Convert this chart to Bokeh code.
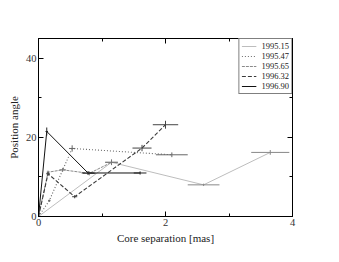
from bokeh.plotting import figure
from bokeh.models import FixedTicker, LinearAxis, ColumnDataSource, Legend, LegendItem, Range1d
from bokeh.embed import file_html
from bokeh.resources import INLINE

labels = ["1995.15", "1995.47", "1995.65", "1996.32", "1996.90"]
sep = [
    [0.0, 1.15, 2.60, 3.65],
    [0.0, 0.17, 0.53, 2.10],
    [0.0, 0.15, 0.38, 0.80, 1.15],
    [0.0, 0.15, 0.57, 1.63, 2.00],
    [0.0, 0.13, 0.78, 1.60],
]
pa = [
    [0.0, 13.7, 8.0, 16.2],
    [0.0, 4.0, 17.2, 15.6],
    [0.0, 11.2, 11.8, 10.9, 13.7],
    [0.0, 10.8, 5.0, 17.3, 23.2],
    [0.0, 21.5, 11.0, 11.0],
]
sep_err = [
    [0.0, 0.10, 0.25, 0.30],
    [0.0, 0.02, 0.05, 0.25],
    [0.0, 0.02, 0.05, 0.10, 0.10],
    [0.0, 0.03, 0.04, 0.15, 0.20],
    [0.0, 0.02, 0.10, 0.10],
]
pa_err = [
    [0.0, 0.7, 0.3, 0.6],
    [0.0, 0.3, 0.8, 0.6],
    [0.0, 0.4, 0.5, 0.5, 0.7],
    [0.0, 0.5, 0.4, 0.8, 1.0],
    [0.0, 1.0, 0.5, 0.4],
]
colors = ["#bdbdbd", "#6a6a6a", "#8a8a8a", "#3a3a3a", "#111111"]
err_colors = ["#888888", "#666666", "#777777", "#444444", "#222222"]
dashes = ["solid", "1 2", "3 1", "4 2", "solid"]
widths = [1, 1.1, 1, 1.1, 1]

W, H = 331, 254
FL, FT, FR, FB = 38, 38, 292, 216
p = figure(width=W, height=H, output_backend="svg", toolbar_location=None,
           x_range=Range1d(0, 4), y_range=Range1d(0, 45),
           min_border_left=FL, min_border_top=FT, min_border_right=W - FR,
           min_border_bottom=H - FB)
p.xgrid.visible = False
p.ygrid.visible = False
p.outline_line_color = "black"
p.outline_line_width = 1
p.background_fill_color = "white"
p.border_fill_color = "white"

font = "'Liberation Serif', serif"

def style(ax, labels_on=True):
    ax.major_tick_in = 5
    ax.major_tick_out = 0
    ax.minor_tick_in = 3
    ax.minor_tick_out = 0
    ax.axis_line_color = "black"
    ax.major_tick_line_color = "black"
    ax.minor_tick_line_color = "black"
    ax.major_label_text_font = font
    ax.major_label_text_font_size = "10.5px"
    ax.major_label_text_color = "#333333"
    ax.axis_label_text_font = font
    ax.axis_label_text_font_size = "11px"
    ax.axis_label_text_font_style = "normal"
    ax.axis_label_text_color = "#222222"
    ax.major_label_standoff = 2
    ax.axis_label_standoff = 3
    if not labels_on:
        ax.major_label_text_font_size = "0px"
        ax.major_label_text_alpha = 0

p.xaxis.ticker = FixedTicker(ticks=[0, 2, 4], minor_ticks=[1, 3])
p.yaxis.ticker = FixedTicker(ticks=[0, 20, 40], minor_ticks=[10, 30])
p.xaxis.axis_label = "Core separation [mas]"
p.yaxis.axis_label = "Position angle"
style(p.xaxis[0])
style(p.yaxis[0])

ax_top = LinearAxis(ticker=FixedTicker(ticks=[0, 2, 4], minor_ticks=[1, 3]))
ax_right = LinearAxis(ticker=FixedTicker(ticks=[0, 20, 40], minor_ticks=[10, 30]))
style(ax_top, False)
style(ax_right, False)
p.add_layout(ax_top, "above")
p.add_layout(ax_right, "right")

items = []
for i, lab in enumerate(labels):
    src = ColumnDataSource(dict(
        x=sep[i], y=pa[i],
        x0=[a - b for a, b in zip(sep[i], sep_err[i])],
        x1=[a + b for a, b in zip(sep[i], sep_err[i])],
        y0=[a - b for a, b in zip(pa[i], pa_err[i])],
        y1=[a + b for a, b in zip(pa[i], pa_err[i])],
    ))
    r = p.line("x", "y", source=src, line_color=colors[i], line_dash=dashes[i],
               line_width=widths[i])
    p.segment(x0="x0", y0="y", x1="x1", y1="y", source=src, line_color=err_colors[i], line_width=1)
    p.segment(x0="x", y0="y0", x1="x", y1="y1", source=src, line_color=err_colors[i], line_width=1)
    items.append(LegendItem(label=lab, renderers=[r]))

leg = Legend(items=items, location="top_right")
leg.label_text_font = font
leg.label_text_font_size = "8.5px"
leg.label_text_color = "#222222"
leg.label_height = 6
leg.glyph_height = 6
leg.glyph_width = 15
leg.spacing = 0
leg.padding = 2
leg.margin = 0
leg.label_standoff = 5
leg.border_line_color = "black"
leg.border_line_width = 1
leg.background_fill_alpha = 1
p.add_layout(leg)

open("out.html", "w").write(file_html(p, INLINE))
